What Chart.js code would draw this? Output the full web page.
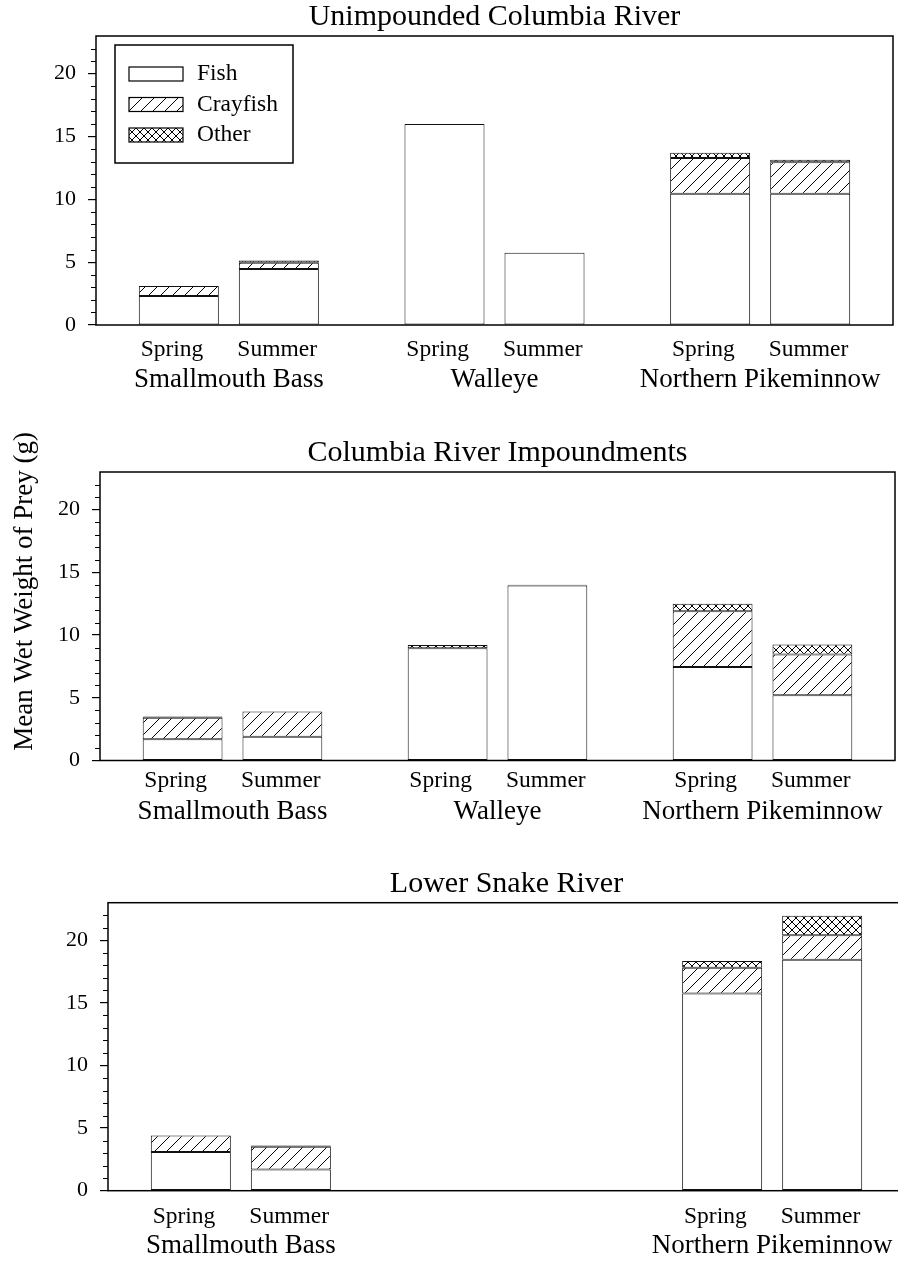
<!DOCTYPE html>
<html>
<head>
<meta charset="utf-8">
<script src="https://cdn.jsdelivr.net/npm/chart.js@4.4.0/dist/chart.umd.min.js"></script>
<style>
  html, body { margin: 0; padding: 0; background: #fff; overflow: hidden; width: 898px; height: 1261px; }
  canvas { position: absolute; left: 0; }
</style>
</head>
<body>
<canvas id="c1" width="898" height="410" style="top:0px"></canvas>
<canvas id="c2" width="898" height="440" style="top:410px"></canvas>
<canvas id="c3" width="915" height="411" style="top:850px"></canvas>
<script>
const species = ['Smallmouth Bass', 'Walleye', 'Northern Pikeminnow'];
const seasons = ['Spring', 'Summer'];
const preyTypes = ['Fish', 'Crayfish', 'Other'];
const yMax = 23;
const yMajorStep = 5;
const yTitle = 'Mean Wet Weight of Prey (g)';

// order: SB spring, SB summer, Walleye spring, Walleye summer, NP spring, NP summer
const unimpFish  = [2.3, 4.45, 16.0, 5.75, 10.45, 10.45];
const unimpCray  = [0.8, 0.5, null, null, 2.85, 2.5];
const unimpOther = [null, 0.18, null, null, 0.4, 0.2];

const impFish  = [1.7, 1.9, 8.95, 13.95, 7.45, 5.2];
const impCray  = [1.7, 2.0, null, null, 4.45, 3.25];
const impOther = [0.1, null, 0.25, 0.06, 0.6, 0.8];

const snakeFish  = [3.1, 1.7, null, null, 15.75, 18.45];
const snakeCray  = [1.3, 1.8, null, null, 2.05, 1.95];
const snakeOther = [null, 0.1, null, null, 0.55, 1.55];

const FONT = '"Liberation Serif", "Times New Roman", serif';

function hatch(size, cross) {
  const c = document.createElement('canvas');
  c.width = c.height = size;
  const g = c.getContext('2d');
  g.fillStyle = '#fff';
  g.fillRect(0, 0, size, size);
  g.strokeStyle = '#000';
  g.lineWidth = 1;
  g.beginPath();
  g.moveTo(0, size); g.lineTo(size, 0);
  g.moveTo(-1, 1); g.lineTo(1, -1);
  g.moveTo(size - 1, size + 1); g.lineTo(size + 1, size - 1);
  if (cross) {
    g.moveTo(0, 0); g.lineTo(size, size);
    g.moveTo(-1, size - 1); g.lineTo(1, size + 1);
    g.moveTo(size - 1, -1); g.lineTo(size + 1, 1);
  }
  g.stroke();
  return g.createPattern(c, 'repeat');
}

const fills = ['#ffffff', hatch(12, false), hatch(8, true)];

function buildDatasets(fish, cray, other) {
  const sets = [];
  seasons.forEach((season, s) => {
    [fish, cray, other].forEach((vals, p) => {
      sets.push({
        label: preyTypes[p],
        stack: season,
        data: species.map((_, i) => vals[i * 2 + s]),
        backgroundColor: fills[p],
        borderColor: '#111',
        borderWidth: 1,
        borderSkipped: false,
        categoryPercentage: 0.753,
        barPercentage: 0.8
      });
    });
  });
  return sets;
}

// box, minor ticks on the y axis
const frameAndTicks = {
  id: 'frameAndTicks',
  afterDraw(chart) {
    const { ctx, chartArea: a } = chart;
    const y = chart.scales.y;
    ctx.save();
    ctx.strokeStyle = '#000';
    ctx.lineWidth = 1.2;
    ctx.beginPath();
    for (let v = 1; v < yMax; v++) {
      if (v % yMajorStep === 0) continue;
      const py = Math.round(y.getPixelForValue(v)) + 0.5;
      ctx.moveTo(a.left - 5, py);
      ctx.lineTo(a.left, py);
    }
    ctx.stroke();
    ctx.lineWidth = 1.5;
    ctx.strokeRect(a.left, a.top, a.right - a.left, a.bottom - a.top);
    ctx.restore();
  }
};

// "Spring  Summer" under each group
const seasonLabels = {
  id: 'seasonLabels',
  afterDraw(chart, args, opts) {
    const ctx = chart.ctx;
    const ds = chart.data.datasets;
    const first = ds.findIndex(d => d.stack === seasons[0]);
    const second = ds.findIndex(d => d.stack === seasons[1]);
    const m1 = chart.getDatasetMeta(first).data;
    const m2 = chart.getDatasetMeta(second).data;
    ctx.save();
    ctx.font = '23.5px ' + FONT;
    ctx.fillStyle = '#000';
    ctx.textAlign = 'left';
    ctx.textBaseline = 'alphabetic';
    const w1 = ctx.measureText(seasons[0]).width;
    const w2 = ctx.measureText(seasons[1]).width;
    const gap = 34;
    species.forEach((_, j) => {
      if (ds[first].data[j] == null) return;
      const center = (m1[j].x + m2[j].x) / 2;
      const start = center - (w1 + gap + w2) / 2;
      const yy = chart.chartArea.bottom + opts.offset;
      ctx.fillText(seasons[0], start, yy);
      ctx.fillText(seasons[1], start + w1 + gap, yy);
    });
    ctx.restore();
  }
};

// legend box in the top left of the first panel
const boxLegend = {
  id: 'boxLegend',
  afterDraw(chart, args, opts) {
    if (!opts.show) return;
    const { ctx, chartArea: a } = chart;
    const bx = a.left + 19, by = a.top + 9;
    ctx.save();
    ctx.fillStyle = '#fff';
    ctx.fillRect(bx, by, 178, 118);
    ctx.strokeStyle = '#000';
    ctx.lineWidth = 1.5;
    ctx.strokeRect(bx, by, 178, 118);
    ctx.font = '23.5px ' + FONT;
    ctx.textBaseline = 'middle';
    preyTypes.forEach((name, i) => {
      const cy = by + 29 + i * 30.5;
      ctx.fillStyle = fills[i];
      ctx.fillRect(bx + 14, cy - 7, 54, 14);
      ctx.lineWidth = 1.2;
      ctx.strokeRect(bx + 14, cy - 7, 54, 14);
      ctx.fillStyle = '#000';
      ctx.fillText(name, bx + 82, cy);
    });
    ctx.restore();
  }
};

// rotated y title, drawn beside the middle panel
const sideTitle = {
  id: 'sideTitle',
  afterDraw(chart, args, opts) {
    if (!opts.show) return;
    const { ctx, chartArea: a } = chart;
    ctx.save();
    ctx.translate(31.7, a.top + (a.bottom - a.top) * 0.414);
    ctx.rotate(-Math.PI / 2);
    ctx.font = '27px ' + FONT;
    ctx.fillStyle = '#000';
    ctx.textAlign = 'center';
    ctx.textBaseline = 'alphabetic';
    ctx.fillText(yTitle, 0, 0);
    ctx.restore();
  }
};

const panels = [
  { id: 'c1', title: 'Unimpounded Columbia River', fish: unimpFish, cray: unimpCray, other: unimpOther,
    plotLeft: 96, plotTop: 36, plotBottom: 325, padRight: 5, labelPad: 38.7, seasonOffset: 31, legend: true },
  { id: 'c2', title: 'Columbia River Impoundments', fish: impFish, cray: impCray, other: impOther,
    plotLeft: 100, plotTop: 62, plotBottom: 350.5, padRight: 3, labelPad: 34.9, seasonOffset: 26.2, yTitle: true },
  { id: 'c3', title: 'Lower Snake River', fish: snakeFish, cray: snakeCray, other: snakeOther,
    plotLeft: 108, plotTop: 52.7, plotBottom: 340.7, padRight: 10, labelPad: 39, seasonOffset: 32.6 }
];

panels.forEach(p => {
  const canvas = document.getElementById(p.id);
  const titleBox = 34;
  const datasets = buildDatasets(p.fish, p.cray, p.other);
  new Chart(canvas, {
    type: 'bar',
    data: { labels: species, datasets: datasets },
    options: {
      responsive: false,
      animation: false,
      devicePixelRatio: 1,
      layout: { padding: { top: p.plotTop - titleBox, left: 0, right: p.padRight, bottom: 0 } },
      plugins: {
        legend: { display: false },
        tooltip: { enabled: false },
        title: {
          display: true, text: p.title, fullSize: false, color: '#000',
          font: { family: FONT, size: 30, weight: 'normal', lineHeight: 1.0 },
          padding: { top: 0, bottom: 4 }
        },
        seasonLabels: { offset: p.seasonOffset },
        boxLegend: { show: !!p.legend },
        sideTitle: { show: !!p.yTitle }
      },
      scales: {
        x: {
          stacked: true,
          afterFit(scale) {
            scale.height = canvas.height - p.plotBottom;
            scale.paddingLeft = 0;
            scale.paddingRight = 0;
          },
          grid: { display: false, drawTicks: false },
          border: { display: false },
          ticks: {
            padding: p.labelPad, color: '#000', maxRotation: 0, autoSkip: false,
            font: { family: FONT, size: 27 },
            callback: function(value, index) {
              return p.fish[index * 2] == null ? '' : species[index];
            }
          }
        },
        y: {
          stacked: true, min: 0, max: yMax,
          afterFit(scale) {
            scale.width = p.plotLeft;
            scale.paddingTop = 0;
            scale.paddingBottom = 0;
          },
          grid: { drawOnChartArea: false, drawTicks: true, tickLength: 8, color: '#000', lineWidth: 1.2 },
          border: { display: false },
          ticks: {
            stepSize: yMajorStep, includeBounds: false, padding: 12, color: '#000',
            font: { family: FONT, size: 22 }
          }
        }
      }
    },
    plugins: [frameAndTicks, seasonLabels, boxLegend, sideTitle]
  });
});
</script>
</body>
</html>
